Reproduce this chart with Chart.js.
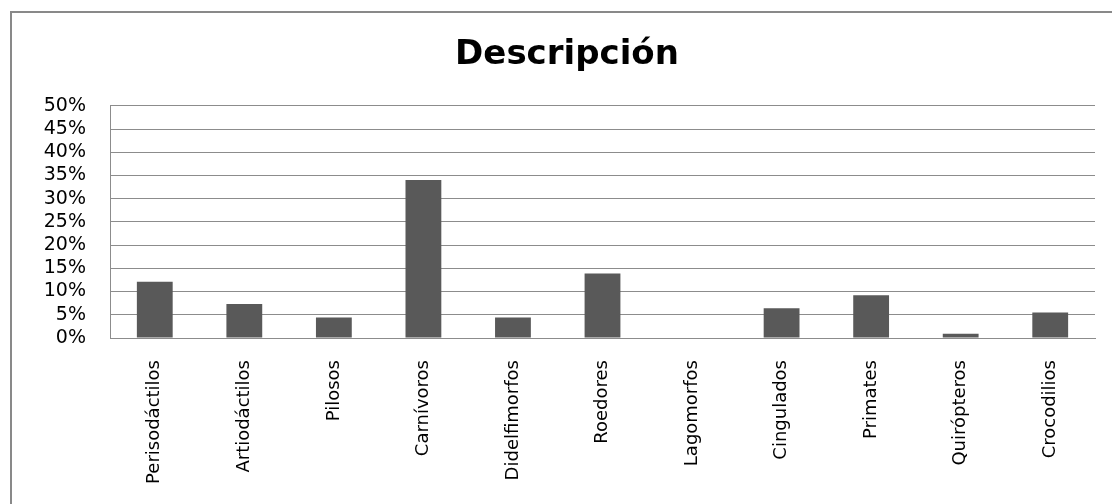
<!DOCTYPE html>
<html>
<head>
<meta charset="utf-8">
<script src="https://cdn.jsdelivr.net/npm/chart.js@4/dist/chart.umd.min.js"></script>
<style>
    html, body { margin: 0; padding: 0; background: #fff; overflow: hidden; }
    #wrap { position: relative; width: 1112px; height: 504px; }
    #frame { position: absolute; left: 10px; top: 11px; width: 1200px; height: 600px; border: 2px solid #898989; pointer-events: none; }
</style>
</head>
<body>
<div id="wrap">
    <canvas id="chart" width="1112" height="504"></canvas>
    <div id="frame"></div>
</div>
<script>
    // data (percent)
    const categories = ["Perisodáctilos", "Artiodáctilos", "Pilosos", "Carnívoros", "Didelfimorfos", "Roedores", "Lagomorfos", "Cingulados", "Primates", "Quirópteros", "Crocodilios"];
    const values = [12.1, 7.3, 4.4, 34.0, 4.4, 13.9, 0, 6.4, 9.2, 0.9, 5.5];
    const yMin = 0;
    const yMax = 50;
    const yStep = 5;
    const title = "Descripción";

    const gridColor = "#8c8c8c";

    const ctx = document.getElementById("chart").getContext("2d");
    new Chart(ctx, {
        type: "bar",
        data: {
            labels: categories,
            datasets: [{
                data: values,
                backgroundColor: "#595959",
                borderWidth: 0,
                barPercentage: 0.4,
                categoryPercentage: 1.0,
            }],
        },
        options: {
            responsive: false,
            animation: false,
            devicePixelRatio: 1,
            layout: { padding: { left: 39, right: 17, top: 0, bottom: 0 } },
            plugins: {
                legend: { display: false },
                tooltip: { enabled: false },
                title: {
                    display: true,
                    text: title,
                    color: "#000",
                    font: { family: "DejaVu Sans", size: 34, weight: "bold" },
                    padding: { top: 35, bottom: 30 },
                },
            },
            scales: {
                x: {
                    grid: { display: false, drawTicks: false },
                    border: { display: true, color: gridColor },
                    ticks: {
                        autoSkip: false,
                        minRotation: 90,
                        maxRotation: 90,
                        padding: 22,
                        color: "#000",
                        font: { family: "DejaVu Sans", size: 18 },
                    },
                    afterFit: (scale) => { scale.height = 166; },
                },
                y: {
                    min: yMin,
                    max: yMax,
                    grid: { color: gridColor, drawTicks: false },
                    border: { display: true, color: gridColor },
                    ticks: {
                        stepSize: yStep,
                        autoSkip: false,
                        padding: 24,
                        color: "#000",
                        font: { family: "DejaVu Sans", size: 19, lineHeight: 1 },
                        callback: (v) => v + "%",
                    },
                    afterFit: (scale) => { scale.width = 71; },
                },
            },
        },
    });
</script>
</body>
</html>
